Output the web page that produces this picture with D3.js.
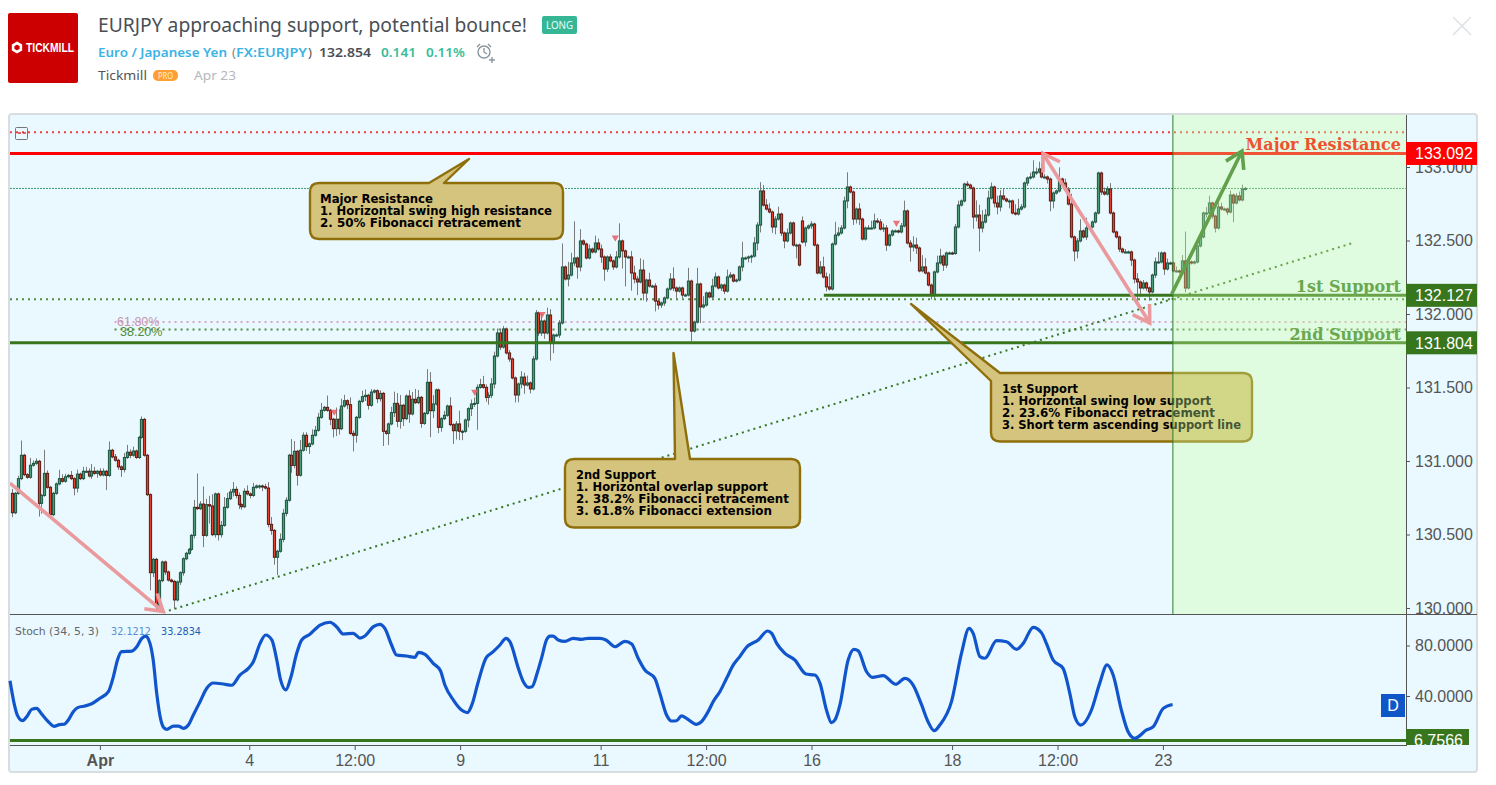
<!DOCTYPE html>
<html><head><meta charset="utf-8">
<style>
html,body{margin:0;padding:0;background:#fff;overflow:hidden}
svg{display:block}
text{font-family:"Liberation Sans",Arial,sans-serif}
.hd{font-family:"Noto Sans",sans-serif}
.note{font-family:"DejaVu Sans",sans-serif;font-weight:bold;font-size:12px;fill:#000}
.lvl{font-family:"DejaVu Serif",serif;font-weight:bold;font-size:16px;text-anchor:end}
.axis text{font-size:16px;fill:#555}
.axis line{stroke:#555}
.axis path{display:none}
</style></head><body>
<svg id="c" width="1496" height="785"></svg>
<script src="https://cdn.jsdelivr.net/npm/d3@7"></script>
<script>
const openA = 130.780;
const closesA = [
130.648,130.780,130.880,131.039,130.907,130.889,130.971,130.984,130.998,130.712,
130.766,130.916,130.821,130.635,130.780,130.844,130.880,130.862,130.893,130.902,
130.880,130.816,130.911,130.880,130.930,130.930,130.898,130.930,130.916,130.930,
130.905,130.930,130.902,131.073,131.028,131.005,130.960,130.942,131.024,131.060,
131.039,131.068,131.024,131.161,131.283,131.039,130.771,130.240,130.331,130.009,
130.186,130.313,130.245,130.190,130.181,130.055,130.177,130.240,130.335,130.372,
130.399,130.494,130.685,130.676,130.707,130.494,130.703,130.694,130.499,130.776,
130.499,130.562,130.685,130.744,130.789,130.807,130.766,130.703,130.689,130.794,
130.776,130.766,130.821,130.830,130.830,130.825,130.816,130.569,130.528,130.345,
130.386,130.467,130.644,130.733,131.039,130.970,131.066,130.903,131.073,131.175,
131.098,131.116,131.175,131.209,131.297,131.345,131.365,131.345,131.284,131.220,
131.284,131.220,131.374,131.410,131.383,131.188,131.175,131.297,131.406,131.438,
131.447,131.379,131.469,131.478,131.424,131.460,131.202,131.188,131.252,131.329,
131.392,131.270,131.379,131.288,131.442,131.320,131.420,131.397,131.433,131.256,
131.324,131.535,131.342,131.388,131.483,131.229,131.288,131.311,131.374,131.247,
131.206,131.252,131.202,131.202,131.279,131.356,131.388,131.392,131.501,131.519,
131.501,131.433,131.447,131.524,131.714,131.871,131.775,131.898,131.735,131.694,
131.565,131.449,131.524,131.571,131.517,131.531,131.490,131.694,132.007,131.871,
131.952,131.871,131.993,131.803,131.857,131.857,131.939,132.320,132.238,132.265,
132.347,132.381,132.320,132.497,132.476,132.381,132.442,132.422,132.483,132.442,
132.388,132.306,132.388,132.361,132.320,132.388,132.497,132.429,132.388,132.388,
132.279,132.238,132.218,132.299,132.143,132.231,132.190,132.190,132.088,132.061,
132.075,132.109,132.170,132.238,132.177,132.156,132.177,132.129,132.129,132.224,
131.884,131.945,132.204,132.048,132.061,132.143,132.116,132.190,132.252,132.177,
132.197,132.156,132.252,132.265,132.224,132.231,132.320,132.381,132.381,132.388,
132.394,132.483,132.605,132.837,132.741,132.714,132.694,132.592,132.646,132.680,
132.551,132.497,132.551,132.619,132.469,132.469,132.333];
const wickUpA = [
3,1,2,10,1,1,5,2,2,1, 1,16,2,1,1,1,6,3,2,1, 3,1,3,1,3,3,2,5,3,1, 2,2,1,6,1,2,1,1,3,5,
2,3,1,1,2,1,1,1,1,1, 1,1,1,1,1,1,1,1,1,1, 1,1,5,23,2,12,4,6,8,1, 1,3,7,4,2,5,2,2,1,2,
4,1,3,1,1,1,2,4,5,1, 1,4,3,2,1,11,7,1,7,2, 2,1,4,3,3,5,1,8,1,1, 8,7,5,4,1,5,2,1,1,4,
4,1,2,1,1,2,1,1,1,4, 8,7,7,1,1,4,5,7,5,1, 1,9,7,6,1,1,1,3,1,6, 1,2,9,1,1,1,3,4,2,4,
6,2,2,4,3,3,3,2,1,2, 1,1,1,4,3,5,1,2,2,1, 5,1,5,4,1,1,2,16,1,9, 7,25,1,8,1,1,3,1,5,3,
3,1,1,2,1,4,12,1,1,1, 4,5,2,8,7,1,5,1,2,1, 1,1,1,4,8,1,1,1,1,9, 1,1,11,1,6,1,1,5,3,1,
1,1,5,2,1,1,1,11,1,1, 1,4,2,6,4,4,4,1,2,5, 1,1,3,1,1,1,1];
const wickDownA = [
3,1,1,1,1,1,1,1,1,9, 7,1,1,1,1,1,1,1,1,1, 1,5,3,1,1,1,1,2,1,3, 1,1,10,1,1,1,2,5,2,1,
2,1,1,1,1,1,1,12,3,2, 3,1,2,1,1,6,1,2,2,1, 1,1,2,1,1,8,1,12,1,2, 4,2,1,1,1,3,2,3,2,1,
1,2,1,1,2,3,1,2,3,5, 12,1,2,2,1,5,2,7,1,1, 3,5,1,1,1,1,1,1,4,6, 5,4,1,1,3,1,11,5,1,1,
3,3,1,1,3,2,10,1,8,1, 3,4,5,5,1,6,1,1,1,3, 1,1,18,5,1,4,3,1,1,1, 9,6,6,6,1,5,5,2,18,1,
1,3,5,2,3,1,2,1,1,2, 1,5,5,3,6,1,3,1,1,2, 2,4,1,12,7,1,2,1,1,5, 1,2,8,3,1,1,1,1,1,1,
4,8,2,1,2,1,1,12,20,1, 12,3,9,1,5,6,1,1,7,3, 2,2,1,1,2,5,1,2,1,1, 7,1,1,11,1,1,1,1,1,1,
2,2,1,1,1,1,1,3,1,3, 4,1,5,5,1,1,1,4,5,1, 2,5,1,1,1,9,1];
const openB = 132.633;
const closesB = [
132.490,132.585,132.599,132.612,132.469,132.279,132.320,132.252,132.184,132.170,
132.476,132.537,132.551,132.585,132.769,132.864,132.830,132.646,132.714,132.646,
132.510,132.585,132.585,132.585,132.633,132.626,132.578,132.585,132.469,132.537,
132.565,132.565,132.558,132.599,132.701,132.483,132.456,132.469,132.449,132.293,
132.320,132.279,132.197,132.129,132.286,132.347,132.394,132.333,132.415,132.415,
132.412,132.592,132.741,132.769,132.884,132.877,132.857,132.660,132.673,132.585,
132.626,132.673,132.789,132.864,132.755,132.728,132.803,132.782,132.769,132.769,
132.687,132.680,132.714,132.728,132.891,132.925,132.932,132.966,132.966,132.986,
132.932,132.932,132.918,132.769,132.823,132.837,132.918,132.891,132.844,132.748,
132.524,132.429,132.497,132.565,132.524,132.585,132.592,132.626,132.687,132.959,
132.830,132.816,132.850,132.687,132.558,132.524,132.442,132.422,132.422,132.422,
132.367,132.238,132.218,132.177,132.211,132.177,132.150,132.265,132.354,132.354,
132.415,132.306,132.347,132.347,132.293,132.293,132.286,132.361,132.177,132.354,
132.347,132.354,132.463,132.524,132.687,132.687,132.755,132.666,132.585,132.728,
132.714,132.714,132.694,132.809,132.755,132.803,132.776,132.850,132.854];
const wickUpB = [
3,1,1,2,1,1,4,7,3,9, 1,9,4,2,3,10,1,1,1,4, 1,1,2,5,5,2,2,3,2,1, 1,1,1,2,7,1,2,6,5,1,
8,6,1,1,1,5,5,1,1,1, 1,2,3,1,1,2,1,1,10,7, 8,4,5,3,1,5,4,5,1,1, 1,6,7,2,1,1,3,8,3,5,
4,2,1,1,1,1,8,1,3,2, 7,1,2,8,1,7,1,1,1,1, 1,3,2,4,1,1,1,1,2,1, 1,1,4,1,2,1,1,1,3,7,
1,1,3,1,1,3,1,4,20,1, 1,1,1,1,1,4,5,1,1,3, 3,1,1,3,1,2,3,3,1];
const wickDownB = [
1,3,1,2,1,1,1,1,3,1, 1,1,1,1,1,5,1,4,3,4, 1,1,1,1,1,1,1,2,4,1, 1,1,1,1,1,1,10,3,4,1,
1,1,1,3,2,1,1,4,2,1, 1,1,1,1,1,1,1,8,3,16, 3,1,1,1,3,5,3,1,1,5, 1,1,1,1,1,2,1,1,2,1,
1,1,3,7,5,1,1,1,1,1, 1,7,5,1,1,2,1,1,1,1, 2,1,1,1,1,1,2,1,1,1, 4,3,14,6,1,2,6,1,2,1,
1,4,1,1,1,1,1,1,3,1, 1,1,1,1,1,3,1,2,3,1, 1,1,2,1,13,1,1,1,1];

const priceTicks = [130,130.5,131,131.5,132,132.5,133];
const stochTicks = [40,80];
const timeTickBars = [30,81,117,153,201,237,273,321,357,393];
const timeTickLabels = ["Apr","4","12:00","9","11","12:00","16","18","12:00","23"];
const barKnots = [0,187,266,267,415];
const barSlots = [0,187.8,268.7,269.8,421];
const stochBars = [-0.7,0.7,1.8,3.6,5.2,6.7,8.4,10.1,12.4,14.3,16.2,17.8,19.2,20.9,22.6,24.9,27.2,30,32.9,34.6,36,37.4,40.9,42.6,44.3,45.6,47.1,48.2,49.4,50.8,51.7,52.8,55.1,56.8,58.5,60.2,61.9,64.2,66.5,68.7,72.2,75,77.8,80.7,82.4,84.7,86.6,88.7,90.4,91.7,93.5,95.1,97.2,98.9,101.7,105.2,108.6,110.8,113.1,116.5,118.8,120.5,123.4,125.6,127.3,129.6,131.3,134.7,137.6,138.7,141,143.8,146.3,147.8,150.7,153.5,155.5,157,159.2,161.8,164.3,166.6,168.7,170,172.9,174.6,176.3,177.6,179.3,180.8,182.5,183.7,184.8,186.5,188.8,191.6,194.5,196.8,200.7,202.8,205.9,209.3,211.6,213.8,216.1,219.5,221.2,223.5,225.2,226.9,228.6,230.3,233.7,235.4,237.7,239.4,241.7,244,246.3,248.5,250.8,254.8,258,259.4,261.1,263.9,267.3,271.1,274.1,275.9,278.1,279.8,281,282.7,285.5,287.5,288.9,291.8,293.8,297.5,301.7,304.9,307.7,310.6,312.8,314.9,316.8,320.8,324.2,326.8,328.2,330.5,332.2,336.2,339.6,343,345.3,348.7,351.5,353.2,355.5,358.9,361.2,362.9,364.9,368.6,371.4,373.9,376,378.8,381.1,383.4,387.4,389.7,393.1,396.3];
const stochValues = [52.1,34.2,24.9,20.5,24.2,29.4,30.2,25.7,19.6,16,17.3,17.6,21,27.6,31,32.1,33.9,38.2,43.4,55.3,68.5,75.1,75.6,79,85.7,87.5,81.7,68.5,42.1,21,15.2,13.6,16.2,16.2,14.4,17,24.9,35.5,46.1,50.3,49.5,48.5,56.6,61.9,67.2,81.7,88.3,84.4,68.5,52.7,44.8,54,73.8,84.4,88.9,96.2,98.4,94.9,89.1,89.6,85.9,87.5,94.9,96.8,93.6,80.4,72.5,71.7,70.6,74.6,73,65.9,60,48.7,36.8,28.9,26.8,32.9,51.3,69.9,75.1,80.4,85.7,83,61.9,51.3,46.9,47.4,58,69.9,84.4,87.5,87.5,84.4,83.3,85.7,84.9,85.7,85.7,84.4,79,83.3,81.2,69.9,60.6,54,42.1,24.9,20.2,20.4,24.2,22.3,17.6,19.6,27.6,35.5,43.4,54,64.6,71.2,78.6,84.4,91.5,89.6,81.7,73.8,68.5,57.4,56.6,50,28.9,18.9,21,32.9,68.5,77,75.9,59.2,54.8,56.1,49.3,54,48.7,32.9,19.6,12.5,17,35.5,73.8,93.6,89.6,71.2,69.9,83.8,83,77,81.7,94.4,90.2,81.7,68.5,61.9,42.1,23.6,17,28.9,50,64.6,56.6,28.9,11.7,6.5,13.1,15.7,30.2,33.3];
const stochFloorLevel = 4.8;
const sellMarkerBars = [110,158,181,206,302];
const sellMarkerPrices = [131.335,131.47,132.0,132.52,132.62];

const resistance = 133.092, support1 = 132.127, support2 = 131.804, lastPrice = 132.854;
const dottedTop = 133.236, dottedA = 132.1, fib618 = 131.945, fib382 = 131.895;
const downArrow1 = [[-0.7,130.85],[51.6,129.976]];
const downArrow2 = [[352,133.092],[388.5,131.939]];
const upArrow = [[396,132.136],[420,133.109]];
const trendLine = [[51.6,129.97],[457.8,132.483]];
const support1StartBar = 277.2, forecastStartBar = 396.4, endBar = 476;

const svg = d3.select("#c");
const x = d3.scaleLinear().domain([-0.7,476]).range([10,1406]);
const y = d3.scaleLinear().domain([130,133]).range([608,167]);
const ys = d3.scaleLinear().domain([0,100]).range([746.5,620.25]);

// frame
svg.append("rect").attr("x",9).attr("y",114).attr("width",1468).attr("height",658).attr("rx",3)
  .attr("fill","#e9f9ff").attr("stroke","#d8dde0").attr("stroke-width",2);

// header
svg.append("rect").attr("x",8).attr("y",13).attr("width",70).attr("height",70).attr("rx",2).attr("fill","#cc0000");
svg.append("path").attr("d",d3.lineRadial().curve(d3.curveLinearClosed)(d3.range(6).map(i=>[i*Math.PI/3,4.5])))
  .attr("transform","translate(17,47.5)").attr("fill","none").attr("stroke","#fff").attr("stroke-width",2.6);
svg.append("text").attr("x",26).attr("y",51.5).attr("textLength",48).attr("lengthAdjust","spacingAndGlyphs")
  .attr("font-size",12).attr("font-weight","bold").attr("fill","#fff").text("TICKMILL");
function hd(t,xp,yp,len,size,col,w){
  svg.append("text").attr("class","hd").attr("x",xp).attr("y",yp).attr("textLength",len).attr("lengthAdjust","spacingAndGlyphs")
   .attr("font-size",size).attr("fill",col).attr("font-weight",w||400).text(t);
}
hd("EURJPY approaching support, potential bounce!",98,32,429,19,"#4a4f55");
svg.append("rect").attr("x",542).attr("y",16).attr("width",35).attr("height",18).attr("rx",2).attr("fill","#35b795");
hd("LONG",546,29,27,11.5,"#e6fff8");
hd("Euro / Japanese Yen",98,57,129,13,"#3bb3e4",600);
hd("(",232,57,4,13,"#888");
hd("FX:EURJPY",236,57,71,13,"#3bb3e4",600);
hd(")",308,57,4,13,"#555");
hd("132.854",319,57,52,13,"#4a4f55",600);
hd("0.141",381,57,35,13,"#37bd9a",600);
hd("0.11%",426,57,39,13,"#37bd9a",600);
const al = svg.append("g").attr("fill","none").attr("stroke","#8a969e").attr("stroke-width",1.4);
al.append("circle").attr("cx",484).attr("cy",52).attr("r",6);
al.append("path").attr("d","M484 48v4l3 2M477 47l3-3M488 44l3 3M489 60h6M492 57v6");
hd("Tickmill",98,80,49,13,"#555");
svg.append("rect").attr("x",153).attr("y",70).attr("width",25).attr("height",11).attr("rx",5).attr("fill","#ff9f33");
hd("PRO",158,79,15,8.5,"#fff0dc");
hd("Apr 23",194,80,42,13,"#b4b8bc");
svg.append("path").attr("d","M1453 17L1471 35M1471 17L1453 35").attr("stroke","#dfe2e4").attr("stroke-width",1.6).attr("fill","none");

// clips
const defs = svg.append("defs");
defs.append("clipPath").attr("id","main").append("rect").attr("x",10).attr("y",115).attr("width",1396).attr("height",499);
defs.append("clipPath").attr("id","floor").append("rect").attr("x",1406).attr("y",729).attr("width",63).attr("height",16);
const main = svg.append("g").attr("clip-path","url(#main)");

function hline(p,x0,col,w,dash){
  main.append("line").attr("x1",x(x0)).attr("x2",x(endBar)).attr("y1",y(p)).attr("y2",y(p))
    .attr("stroke",col).attr("stroke-width",w).attr("stroke-dasharray",dash||null);
}
hline(dottedTop,-0.7,"#f04040",2,"2 4");
hline(dottedA,-0.7,"#4f8f3f",2,"2 4");
hline(fib618,35,"#dba6cc",2,"2 4");
hline(fib382,35,"#4f8f3f",2,"2 4");
hline(lastPrice,-0.7,"#3f9a6e",1,"2 1");

// candles
const opens = [openA].concat(closesA.slice(0,-1),[openB],closesB.slice(0,-1));
const closes = closesA.concat(closesB);
const wUp = wickUpA.concat(wickUpB), wDn = wickDownA.concat(wickDownB);
const barX = d3.scaleLinear().domain(barKnots).range(barSlots);
const candles = closes.map((c,i)=>({i,o:opens[i],c,h:Math.max(opens[i],c)+(wUp[i]||0)/100,l:Math.min(opens[i],c)-(wDn[i]||0)/100}));
main.append("g").selectAll("line").data(candles).join("line")
  .attr("x1",d=>Math.round(x(barX(d.i)))+0.5).attr("x2",d=>Math.round(x(barX(d.i)))+0.5).attr("y1",d=>y(d.h)).attr("y2",d=>y(d.l))
  .attr("stroke","#7b7b7b").attr("stroke-width",1);
main.append("g").selectAll("rect").data(candles).join("rect")
  .attr("x",d=>Math.round(x(barX(d.i)))-0.6).attr("width",2.2)
  .attr("y",d=>y(Math.max(d.o,d.c))).attr("height",d=>Math.max(1,Math.abs(y(d.o)-y(d.c))))
  .attr("fill",d=>d.c>=d.o?"#4a9c78":"#e2402c")
  .attr("stroke",d=>d.c>=d.o?"#1d5540":"#5c1a12").attr("stroke-width",1);
main.append("g").selectAll("path").data(sellMarkerBars).join("path")
  .attr("d",d3.symbol(d3.symbolTriangle,22))
  .attr("transform",(d,i)=>`translate(${x(d)},${y(sellMarkerPrices[i])}) rotate(180)`)
  .attr("fill","#ea5a62").attr("opacity",.85);

// levels
hline(resistance,-0.7,"#ff0000",3);
hline(support1,support1StartBar,"#38761d",3);
hline(support2,-0.7,"#38761d",3);
main.append("line").attr("x1",x(trendLine[0][0])).attr("y1",y(trendLine[0][1])).attr("x2",x(trendLine[1][0])).attr("y2",y(trendLine[1][1]))
  .attr("stroke","#38761d").attr("stroke-width",2).attr("stroke-dasharray","2 4");

// arrows
function arrow(seg,col,both){
  const a=[x(seg[0][0]),y(seg[0][1])], b=[x(seg[1][0]),y(seg[1][1])];
  const g=main.append("g").attr("fill","none").attr("stroke",col).attr("stroke-width",3.6);
  g.append("line").attr("x1",a[0]).attr("y1",a[1]).attr("x2",b[0]).attr("y2",b[1]);
  function head(p,q){
    const t=Math.atan2(q[1]-p[1],q[0]-p[0]), L=19, s=0.55;
    g.append("path").attr("d",`M${p[0]+L*Math.cos(t+s)} ${p[1]+L*Math.sin(t+s)}L${p[0]} ${p[1]}L${p[0]+L*Math.cos(t-s)} ${p[1]+L*Math.sin(t-s)}`);
  }
  head(b,a); if(both) head(a,b);
}
arrow(downArrow1,"#ea9a9c",false);
arrow(downArrow2,"#ea9a9c",true);

// callouts
function callout(x0,y0,x1,y1,tail,lines,widths,tx,ty){
  const r=9;
  const p=d3.path();
  p.moveTo(x0+r,y0);
  if(tail.top){p.lineTo(tail.a,y0);p.lineTo(tail.tx,tail.ty);p.lineTo(tail.b,y0);}
  else{p.lineTo(tail.b,y0);}
  p.lineTo(x1-r,y0);p.quadraticCurveTo(x1,y0,x1,y0+r);
  p.lineTo(x1,y1-r);p.quadraticCurveTo(x1,y1,x1-r,y1);
  p.lineTo(x0+r,y1);p.quadraticCurveTo(x0,y1,x0,y1-r);
  if(tail.top){p.lineTo(x0,y0+r);p.quadraticCurveTo(x0,y0,x0+r,y0);}
  else{p.lineTo(x0,tail.a);p.lineTo(tail.tx,tail.ty);p.closePath();}
  svg.append("path").attr("d",p.toString()).attr("fill","#d5c47d").attr("stroke","#8f6f0c").attr("stroke-width",2.4).attr("stroke-linejoin","round");
  lines.forEach((l,i)=>svg.append("text").attr("class","note").attr("x",tx).attr("y",ty+i*12.2)
    .attr("textLength",widths[i]).attr("lengthAdjust","spacingAndGlyphs").text(l));
}
callout(310,183,563,239,{top:true,a:429,b:444,tx:469,ty:159},
  ["Major Resistance","1. Horizontal swing high resistance","2. 50% Fibonacci retracement"],[113,232,201],320,203);
callout(565,459,800,527.5,{top:true,a:675,b:690,tx:673.5,ty:353},
  ["2nd Support","1. Horizontal overlap support","2. 38.2% Fibonacci retracement","3. 61.8% Fibonacci extension"],[80,192,213,196],576,478.5);
callout(991,373,1252,441.5,{top:false,a:381,b:1000,tx:911,ty:304},
  ["1st Support","1. Horizontal swing low support","2. 23.6% Fibonacci retracement","3. Short term ascending support line"],[76,209,213,239],1002,392.5);

// forecast zone
svg.append("rect").attr("x",x(forecastStartBar)).attr("y",115).attr("width",x(endBar)-x(forecastStartBar)).attr("height",499)
  .attr("fill","rgb(203,255,161)").attr("opacity",.33);
svg.append("line").attr("x1",x(forecastStartBar)).attr("x2",x(forecastStartBar)).attr("y1",115).attr("y2",614).attr("stroke","#2f7d2a").attr("stroke-width",1);
const topLayer = svg.append("g").attr("clip-path","url(#main)");
(function(){
  const a=[x(upArrow[0][0]),y(upArrow[0][1])], b=[x(upArrow[1][0]),y(upArrow[1][1])];
  const t=Math.atan2(a[1]-b[1],a[0]-b[0]), L=19, s=0.55;
  topLayer.append("path").attr("fill","none").attr("stroke","#62a04b").attr("stroke-width",3.6)
    .attr("d",`M${a[0]} ${a[1]}L${b[0]} ${b[1]}M${b[0]+L*Math.cos(t+s)} ${b[1]+L*Math.sin(t+s)}L${b[0]} ${b[1]}L${b[0]+L*Math.cos(t-s)} ${b[1]+L*Math.sin(t-s)}`);
})();

// level text
[["Major Resistance","#f0512f",150],["1st Support","#6aa84f",292],["2nd Support","#6aa84f",340]].forEach(d=>{
  svg.append("text").attr("class","lvl").attr("x",1401).attr("y",d[2]).attr("fill",d[1]).text(d[0]);
});
svg.append("text").attr("x",117).attr("y",326).attr("font-size",12.5).attr("fill","#c893ab").text("61.80%");
svg.append("text").attr("x",120).attr("y",336).attr("font-size",12.5).attr("fill","#4f8a3a").text("38.20%");

// pane lines + axes
svg.append("g").attr("class","axis").attr("transform","translate(1406,0)")
  .call(d3.axisRight(y).tickValues(priceTicks).tickSize(4).tickPadding(5).tickFormat(d3.format(".3f")));
svg.append("g").attr("class","axis").attr("transform","translate(1406,0)")
  .call(d3.axisRight(ys).tickValues(stochTicks).tickSize(4).tickPadding(5).tickFormat(d3.format(".4f")));
svg.append("g").attr("class","axis").attr("transform","translate(0,746)")
  .call(d3.axisBottom(x).tickValues(timeTickBars).tickSize(4).tickPadding(5).tickFormat((d,i)=>timeTickLabels[i]))
  .selectAll("text").attr("font-weight",(d,i)=>i==0?"bold":null);
const sep="#555";
svg.append("line").attr("x1",10).attr("x2",1477).attr("y1",614.5).attr("y2",614.5).attr("stroke",sep);
svg.append("line").attr("x1",10).attr("x2",1406).attr("y1",745.5).attr("y2",745.5).attr("stroke",sep);
svg.append("line").attr("x1",1406.5).attr("x2",1406.5).attr("y1",115).attr("y2",746).attr("stroke",sep);

// stochastic
svg.append("line").attr("x1",10).attr("x2",1406).attr("y1",ys(stochFloorLevel)).attr("y2",ys(stochFloorLevel)).attr("stroke","#38761d").attr("stroke-width",3);
svg.append("path").datum(stochBars.map((b,i)=>[b,stochValues[i]]))
  .attr("d",d3.line().x(d=>x(d[0])).y(d=>ys(d[1])).curve(d3.curveMonotoneX))
  .attr("fill","none").attr("stroke","#1155cc").attr("stroke-width",3.2);
svg.append("text").attr("class","note").attr("x",15).attr("y",635).attr("textLength",84).attr("lengthAdjust","spacingAndGlyphs").style("font-weight","normal").style("font-size","11px").style("fill","#666").text("Stoch (34, 5, 3)");
svg.append("text").attr("class","note").attr("x",111).attr("y",635).attr("textLength",40).attr("lengthAdjust","spacingAndGlyphs").style("font-weight","normal").style("font-size","11px").style("fill","#5b8fd0").text("32.1212");
svg.append("text").attr("class","note").attr("x",161).attr("y",635).attr("textLength",40).attr("lengthAdjust","spacingAndGlyphs").style("font-weight","normal").style("font-size","11px").style("fill","#1c5cb5").text("33.2834");

// price labels
[[resistance,"#ff0000"],[support1,"#38761d"],[support2,"#38761d"]].forEach(d=>{
  const c=y(d[0]);
  svg.append("rect").attr("x",1406).attr("y",c-11.5).attr("width",71).attr("height",23).attr("fill",d[1]);
  svg.append("text").attr("x",1415).attr("y",c+6).attr("font-size",16).attr("fill","#fff").text(d[0].toFixed(3));
});
const fl=svg.append("g").attr("clip-path","url(#floor)");
fl.append("rect").attr("x",1406).attr("y",729).attr("width",63).attr("height",16).attr("fill","#38761d");
fl.append("text").attr("x",1414).attr("y",746).attr("font-size",16).attr("fill","#fff").text("6.7566");
svg.append("rect").attr("x",1381).attr("y",694).attr("width",24).attr("height",23).attr("fill","#0f57c9");
svg.append("text").attr("x",1393).attr("y",711).attr("text-anchor","middle").attr("font-size",16).attr("fill","#fff").text("D");
// pane legend toggle
svg.append("rect").attr("x",15.5).attr("y",127.5).attr("width",12).attr("height",12).attr("rx",1).attr("fill","none").attr("stroke","#777");
svg.append("path").attr("d","M18 133h3M23 133h3").attr("stroke","#d33").attr("stroke-width",1.4);
</script></body></html>
